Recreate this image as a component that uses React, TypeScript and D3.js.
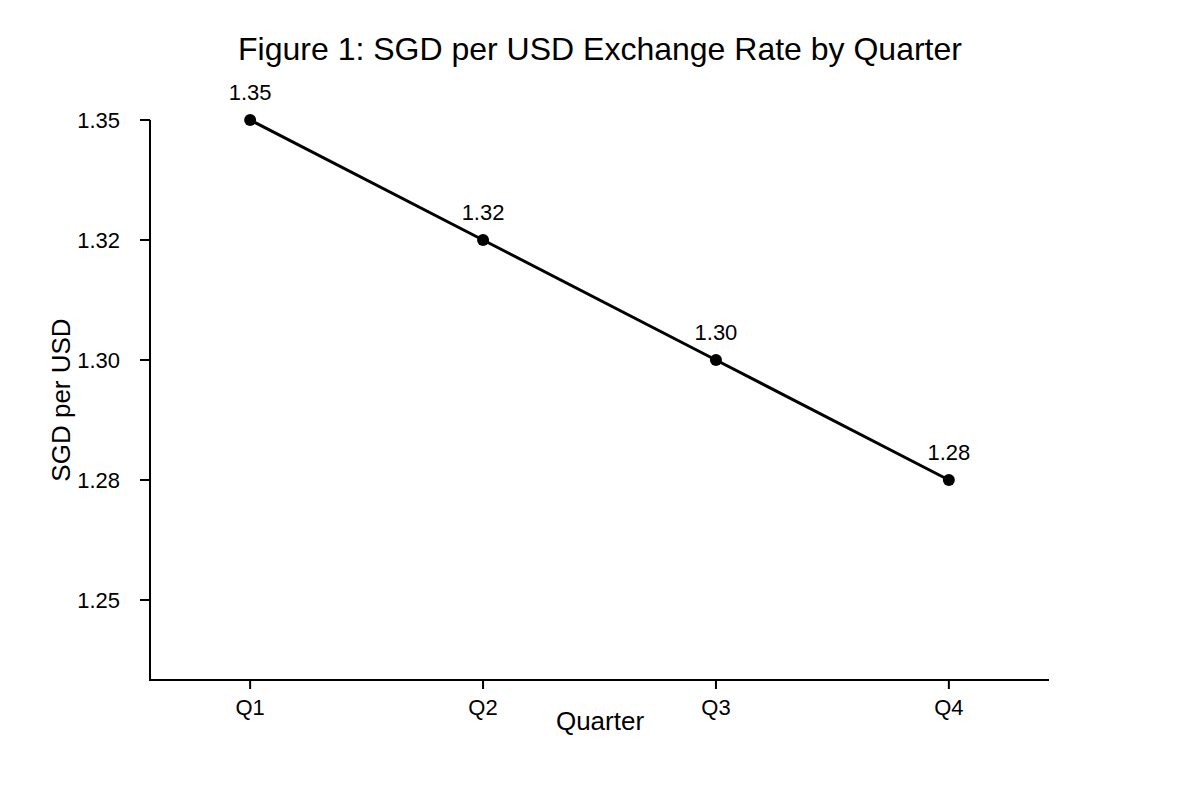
import * as d3 from "d3"

const quarters = ["Q1", "Q2", "Q3", "Q4"]
const rates = [1.35, 1.32, 1.3, 1.28]
const yTicks = [1.25, 1.28, 1.3, 1.32, 1.35]

const width = 1200
const height = 800
const margin = { top: 120, right: 151, bottom: 120, left: 150 }
const font = "'Liberation Sans', Arial, sans-serif"

export default function App() {
  const plotBottom = height - margin.bottom

  const x = d3
    .scalePoint<string>()
    .domain(quarters)
    .range([margin.left, width - margin.right])
    .padding(0.43)

  // ticks sit evenly spaced, so map them piecewise
  const y = d3
    .scaleLinear()
    .domain(yTicks)
    .range(yTicks.map((_, i) => 600 - i * 120))

  const line = d3
    .line<number>()
    .x((_, i) => x(quarters[i])!)
    .y((d) => y(d))

  const fmt = d3.format(".2f")

  return (
    <svg width={width} height={height} style={{ display: "block", margin: -8 }} fontFamily={font}>
      <rect width={width} height={height} fill="#fff" />
      <text x={600} y={60} textAnchor="middle" fontSize={32}>
        Figure 1: SGD per USD Exchange Rate by Quarter
      </text>

      {/* axes */}
      <line x1={margin.left} x2={margin.left} y1={margin.top} y2={plotBottom} stroke="#000" strokeWidth={2} />
      <line x1={margin.left - 1} x2={width - margin.right} y1={plotBottom} y2={plotBottom} stroke="#000" strokeWidth={2} />

      {yTicks.map((t) => (
        <g key={t}>
          <line x1={margin.left - 10} x2={margin.left} y1={y(t)} y2={y(t)} stroke="#000" strokeWidth={2} />
          <text x={margin.left - 30} y={y(t)} dy="0.35em" textAnchor="end" fontSize={22}>
            {fmt(t)}
          </text>
        </g>
      ))}

      {quarters.map((q) => (
        <g key={q}>
          <line x1={x(q)} x2={x(q)} y1={plotBottom} y2={plotBottom + 9} stroke="#000" strokeWidth={2} />
          <text x={x(q)} y={plotBottom + 35} textAnchor="middle" fontSize={22}>
            {q}
          </text>
        </g>
      ))}

      <text x={600} y={730} textAnchor="middle" fontSize={26}>
        Quarter
      </text>
      <text transform="translate(70,400) rotate(-90)" textAnchor="middle" fontSize={26}>
        SGD per USD
      </text>

      <path d={line(rates) ?? ""} fill="none" stroke="#000" strokeWidth={3} />
      {rates.map((r, i) => (
        <g key={i}>
          <circle cx={x(quarters[i])} cy={y(r)} r={6} fill="#000" />
          <text x={x(quarters[i])} y={y(r) - 20} textAnchor="middle" fontSize={22}>
            {fmt(r)}
          </text>
        </g>
      ))}
    </svg>
  )
}
